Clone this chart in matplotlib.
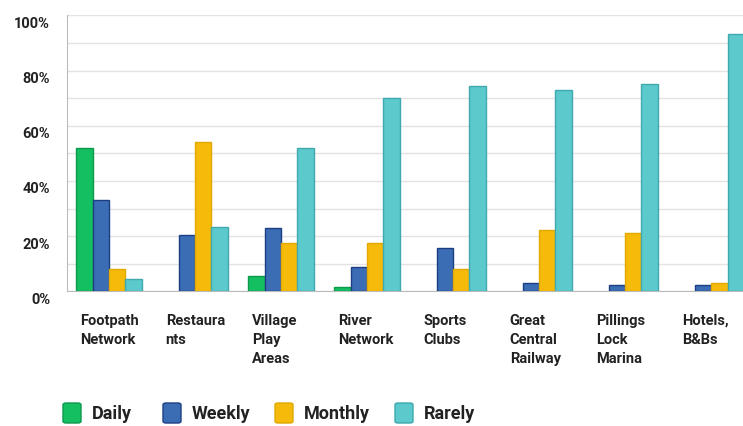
import numpy as np
import matplotlib.pyplot as plt
import matplotlib.transforms as mtransforms
from matplotlib.patches import FancyBboxPatch

# data (percent of respondents)
categories = ['Footpath\nNetwork', 'Restaura\nnts', 'Village\nPlay\nAreas', 'River\nNetwork',
              'Sports\nClubs', 'Great\nCentral\nRailway', 'Pillings\nLock\nMarina', 'Hotels,\nB&Bs']
daily = [52.0, 0, 5.5, 1.7, 0, 0, 0, 0]
weekly = [33.1, 20.5, 23.0, 9.0, 15.6, 3.1, 2.2, 2.2]
monthly = [8.1, 54.1, 17.6, 17.5, 8.1, 22.2, 21.1, 3.1]
rarely = [4.6, 23.5, 52.0, 70.1, 74.5, 73.0, 75.1, 93.1]
series_names = ['Daily', 'Weekly', 'Monthly', 'Rarely']
y_ticks = [0, 20, 40, 60, 80, 100]
y_tick_labels = ['0%', '20%', '40%', '60%', '80%', '100%']

fills = ['#14bf62', '#3b6db5', '#f6bb0a', '#5cc9cc']
edges = ['#0d9a4c', '#1d3f82', '#e0a800', '#3fa9ad']

plt.rcParams['font.family'] = ['Roboto', 'DejaVu Sans']

fig = plt.figure(figsize=(7.43, 4.26), dpi=100)
ax = fig.add_axes([0.0898, 0.316, 0.9102, 0.648])

x = np.arange(len(categories))
w = 0.19
all_series = [daily, weekly, monthly, rarely]
for i, vals in enumerate(all_series):
    offs = (i - 1.5) * w
    lw = [1.0 if v > 0 else 0 for v in vals]
    ax.bar(x + offs, vals, width=w, color=fills[i], edgecolor=edges[i], linewidth=lw, zorder=3)

ax.set_ylim(0, 100)
ax.set_xlim(-0.49, 7.37)
ax.set_yticks(y_ticks)
ax.set_yticklabels(y_tick_labels, fontsize=10.5, fontweight='bold', color='#222222')
ax.set_yticks(np.arange(10, 100, 10), minor=True)
ax.yaxis.grid(True, which='both', color='#e3e3e3', linewidth=1.0, zorder=0)
ax.tick_params(axis='y', which='both', length=0, pad=12)
offset = mtransforms.ScaledTranslation(0, -7 / 100, fig.dpi_scale_trans)
for lbl in ax.get_yticklabels():
    lbl.set_transform(lbl.get_transform() + offset)

ax.set_xticks(x - 2 * w + 0.04)
ax.set_xticklabels(categories, fontsize=10.5, fontweight='bold', color='#222222',
                   ha='left', va='top', linespacing=1.45)
ax.tick_params(axis='x', length=0, pad=16)

for s in ['top', 'right']:
    ax.spines[s].set_visible(False)
ax.spines['left'].set_color('#bbbbbb')
ax.spines['bottom'].set_color('#bbbbbb')

# legend drawn as rounded squares with labels along the bottom
leg_x = [63, 163, 275, 395]
for i, name in enumerate(series_names):
    px = leg_x[i] / 743
    fig.patches.append(FancyBboxPatch((px, 3 / 426), 18 / 743, 20 / 426,
                                      boxstyle='round,pad=0,rounding_size=0.004',
                                      transform=fig.transFigure, facecolor=fills[i],
                                      edgecolor=edges[i], linewidth=1.0))
    fig.text(px + 29 / 743, 12 / 426, name, fontsize=13, fontweight='bold',
             color='#222222', va='center', ha='left')

fig.savefig('out.png', dpi=100)
